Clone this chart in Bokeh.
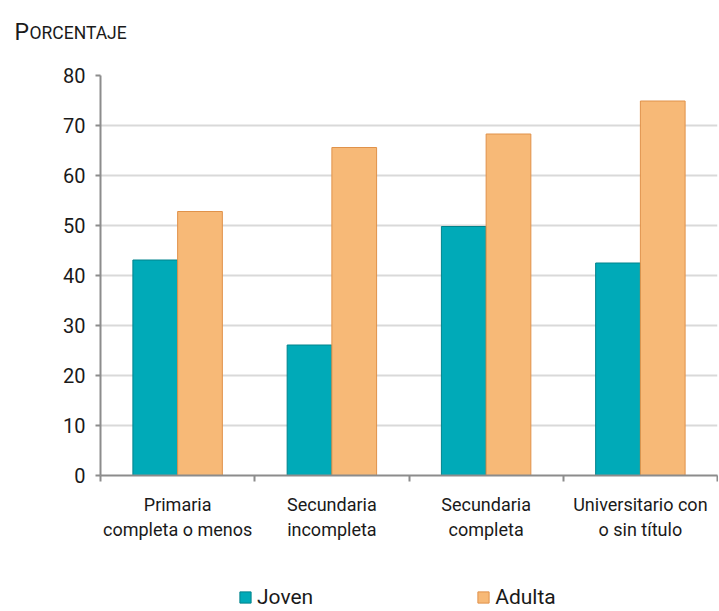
from bokeh.plotting import figure
from bokeh.models import ColumnDataSource, FixedTicker, Legend, LegendItem, Label, Range1d
from bokeh.layouts import column
from bokeh.embed import file_html
from bokeh.resources import INLINE

categories = ["Primaria\ncompleta o menos", "Secundaria\nincompleta",
              "Secundaria\ncompleta", "Universitario con\no sin título"]
joven = [43.1, 26.1, 49.8, 42.5]
adulta = [52.8, 65.6, 68.3, 74.9]
series_names = ["Joven", "Adulta"]
y_ticks = [0, 10, 20, 30, 40, 50, 60, 70, 80]
title_first, title_rest = "P", "ORCENTAJE"

FONT = "Roboto"
TXT = "#1a1a1a"
AXIS = "#8C8C8C"
TEAL, TEAL_LINE = "#00AAB8", "#00838C"
ORANGE, ORANGE_LINE = "#F7B977", "#E0924A"
W = 718


def no_frame_align(f):
    try:
        f.frame_align = False
    except Exception:
        pass


def bare(height, xr, yr):
    f = figure(width=W, height=height, output_backend="svg", toolbar_location=None,
               x_range=xr, y_range=yr, x_axis_location=None, y_axis_location=None,
               min_border=0)
    f.outline_line_color = None
    for g in f.grid:
        g.visible = False
    no_frame_align(f)
    return f


# ---- title strip (small caps imitation) ----
pt = bare(48, Range1d(0, W), Range1d(0, 48))
pt.add_layout(Label(x=14, y=15.7, text=title_first, text_baseline="alphabetic",
                    text_font=FONT, text_font_size="23px", text_color=TXT))
pt.add_layout(Label(x=29, y=15.7, text=title_rest, text_baseline="alphabetic",
                    text_font=FONT, text_font_size="17.5px", text_color=TXT))

# ---- main chart ----
n = len(categories)
centers = [i + 0.5 for i in range(n)]
bw = 0.29

src = ColumnDataSource(dict(
    xj=[c - bw / 2 for c in centers],
    xa=[c + bw / 2 for c in centers],
    joven=joven, adulta=adulta))

p = figure(width=W, height=527, output_backend="svg", toolbar_location=None,
           x_range=Range1d(0, n), y_range=Range1d(0, 80),
           min_border_left=100, min_border_right=1, min_border_top=27,
           min_border_bottom=100)
p.outline_line_color = None
p.background_fill_color = "white"
no_frame_align(p)

p.vbar(x="xj", top="joven", width=bw, source=src, fill_color=TEAL,
       line_color=TEAL_LINE, line_width=1)
p.vbar(x="xa", top="adulta", width=bw, source=src, fill_color=ORANGE,
       line_color=ORANGE_LINE, line_width=1)

p.xaxis.ticker = FixedTicker(ticks=centers, minor_ticks=list(range(n + 1)))
p.xaxis.major_label_overrides = {c: lab for c, lab in zip(centers, categories)}
p.xaxis.major_tick_out = 0
p.xaxis.major_tick_in = 0
p.xaxis.minor_tick_out = 6
p.xaxis.minor_tick_in = 0
p.xaxis.minor_tick_line_color = AXIS
p.xaxis.minor_tick_line_width = 2
p.xaxis.axis_line_color = AXIS
p.xaxis.axis_line_width = 2
p.xaxis.major_label_text_font = FONT
p.xaxis.major_label_text_font_size = "18px"
p.xaxis.major_label_text_color = TXT
p.xaxis.major_label_standoff = 12
p.xgrid.visible = False

p.yaxis.ticker = FixedTicker(ticks=y_ticks)
p.yaxis.minor_tick_line_color = None
p.yaxis.major_tick_out = 5
p.yaxis.major_tick_in = 0
p.yaxis.major_tick_line_color = AXIS
p.yaxis.major_tick_line_width = 2
p.yaxis.axis_line_color = AXIS
p.yaxis.axis_line_width = 2
p.yaxis.major_label_text_font = FONT
p.yaxis.major_label_text_font_size = "20px"
p.yaxis.major_label_text_color = TXT
p.yaxis.major_label_standoff = 10
p.ygrid.ticker = FixedTicker(ticks=y_ticks[1:])
p.ygrid.grid_line_color = "#D9D9D9"
p.ygrid.grid_line_width = 2

# ---- legend strip (hidden renderers carry the legend swatches) ----
pl = bare(35, Range1d(0, 1), Range1d(0, 1))
lj = pl.vbar(x="xj", top="joven", width=bw, source=src, fill_color=TEAL,
             line_color=TEAL_LINE, visible=False)
la = pl.vbar(x="xa", top="adulta", width=bw, source=src, fill_color=ORANGE,
             line_color=ORANGE_LINE, visible=False)
legend = Legend(items=[LegendItem(label=series_names[0], renderers=[lj]),
                       LegendItem(label=series_names[1], renderers=[la])],
                orientation="horizontal", location=(238, 1),
                spacing=163, glyph_width=14, glyph_height=14,
                label_text_font=FONT, label_text_font_size="21px",
                label_text_color=TXT, label_height=14,
                label_standoff=5, border_line_color=None,
                background_fill_alpha=0, padding=0, margin=0)
pl.add_layout(legend, "center")

layout = column(pt, p, pl, spacing=0)
open("out.html", "w").write(file_html(layout, INLINE))
